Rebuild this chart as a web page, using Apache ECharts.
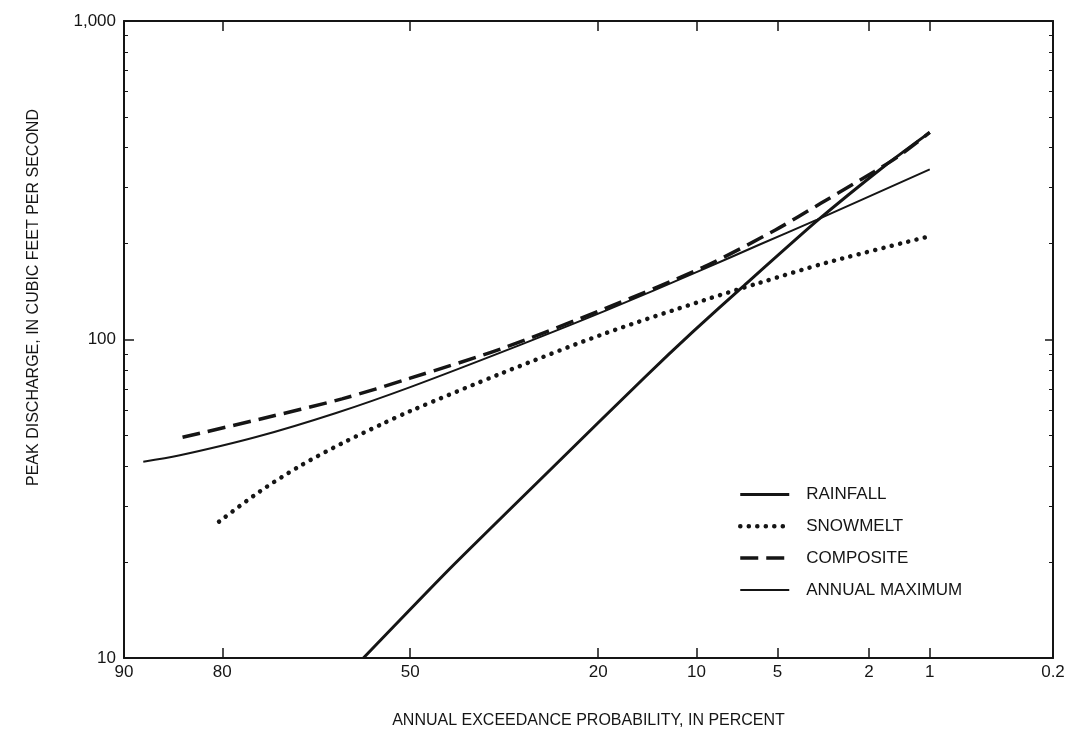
<!DOCTYPE html>
<html>
<head>
<meta charset="utf-8">
<script src="https://cdn.jsdelivr.net/npm/echarts@6/dist/echarts.min.js"></script>
<style>
html, body { margin: 0; padding: 0; background: #fff; }
#chart { width: 1069px; height: 731px; }
</style>
</head>
<body>
<div id="chart"></div>
<script>
// x axis: annual exceedance probability (percent), drawn on a normal-probability scale
var probTicks = [90, 80, 50, 20, 10, 5, 2, 1, 0.2];
var probLabels = ['90', '80', '50', '20', '10', '5', '2', '1', '0.2'];
// y axis: peak discharge (log)
var flowLabels = [10, 100, 1000];
var flowMajor = [100];
var flowMinor = [20, 30, 40, 50, 60, 70, 80, 90, 200, 300, 400, 500, 600, 700, 800, 900];

var rainfallProb = [58.3, 42.8, 26, 14.7, 10.25, 6.85, 3.42, 1.69, 1];
var rainfallFlow = [10, 19.2, 40, 76, 106, 146, 236, 350, 447];

var snowmeltProb = [80.4, 75, 68.9, 62, 55, 50, 34, 19.1, 9.5, 5.94, 3.07, 1];
var snowmeltFlow = [26.8, 33.3, 40.1, 47.2, 54.3, 59.6, 78.5, 104.6, 132.5, 150.3, 174.7, 211];

var compositeProb = [84.6, 75, 62, 50, 34, 19.1, 9.5, 5.1, 3.3, 1.89, 1.45, 1];
var compositeFlow = [49.3, 56.2, 65.1, 75.6, 93.8, 125.3, 168.5, 220.8, 267.7, 336.4, 375, 447];

var annualProb = [88.4, 85, 75.5, 63, 50, 31, 19, 9.5, 5.94, 3.42, 1];
var annualFlow = [41.3, 43.2, 49.4, 58.8, 70.9, 96.4, 123.4, 166, 198, 238, 342];

// inverse standard normal (Acklam)
function normInv(p) {
    var a = [-39.69683028665376, 220.9460984245205, -275.9285104469687, 138.3577518672690, -30.66479806614716, 2.506628277459239];
    var b = [-54.47609879822406, 161.5858368580409, -155.6989798598866, 66.80131188771972, -13.28068155288572];
    var c = [-0.007784894002430293, -0.3223964580411365, -2.400758277161838, -2.549732539343734, 4.374664141464968, 2.938163982698783];
    var d = [0.007784695709041462, 0.3224671290700398, 2.445134137142996, 3.754408661907416];
    var q, r;
    if (p < 0.02425) {
        q = Math.sqrt(-2 * Math.log(p));
        return (((((c[0]*q+c[1])*q+c[2])*q+c[3])*q+c[4])*q+c[5]) / ((((d[0]*q+d[1])*q+d[2])*q+d[3])*q+1);
    }
    if (p > 1 - 0.02425) {
        q = Math.sqrt(-2 * Math.log(1 - p));
        return -(((((c[0]*q+c[1])*q+c[2])*q+c[3])*q+c[4])*q+c[5]) / ((((d[0]*q+d[1])*q+d[2])*q+d[3])*q+1);
    }
    q = p - 0.5;
    r = q * q;
    return (((((a[0]*r+a[1])*r+a[2])*r+a[3])*r+a[4])*r+a[5])*q / (((((b[0]*r+b[1])*r+b[2])*r+b[3])*r+b[4])*r+1);
}
function probToZ(pct) { return normInv(1 - pct / 100); }

function pairs(probs, flows) {
    return probs.map(function (p, i) { return [probToZ(p), flows[i]]; });
}

var probTickZ = probTicks.map(probToZ);
var ink = '#151515';
var fontName = 'Liberation Sans';

var chart = echarts.init(document.getElementById('chart'));
var option = {
    backgroundColor: '#fff',
    animation: false,
    textStyle: { fontFamily: fontName, color: ink },
    grid: { left: 124, right: 16, top: 21, bottom: 73, containLabel: false, outerBoundsMode: 'none' },
    legend: {
        orient: 'vertical',
        left: 738,
        top: 486,
        padding: 0,
        itemWidth: 49,
        itemHeight: 14,
        itemGap: 14.8,
        itemStyle: { opacity: 0 },
        lineStyle: { width: 'inherit', type: 'inherit' },
        textStyle: { fontSize: 17, color: ink, padding: [0, 0, 0, 12] },
        data: ['RAINFALL', 'SNOWMELT', 'COMPOSITE', 'ANNUAL MAXIMUM']
    },
    xAxis: [
        {
            type: 'value',
            position: 'bottom',
            min: probToZ(90),
            max: probToZ(0.2),
            axisLine: { onZero: false, lineStyle: { color: ink, width: 2 } },
            axisTick: { inside: true, length: 10, customValues: probTickZ, lineStyle: { color: ink, width: 1.5 } },
            axisLabel: {
                customValues: probTickZ,
                fontSize: 17,
                color: ink,
                margin: 6,
                formatter: function (v) {
                    for (var i = 0; i < probTickZ.length; i++) {
                        if (Math.abs(probTickZ[i] - v) < 1e-6) return probLabels[i];
                    }
                    return '';
                }
            },
            splitLine: { show: false },
            name: 'ANNUAL EXCEEDANCE PROBABILITY, IN PERCENT',
            nameLocation: 'middle',
            nameGap: 55,
            nameTextStyle: { fontSize: 16, color: ink }
        },
        {
            type: 'value',
            position: 'top',
            min: probToZ(90),
            max: probToZ(0.2),
            axisLine: { onZero: false, lineStyle: { color: ink, width: 2 } },
            axisTick: { inside: true, length: 10, customValues: probTickZ, lineStyle: { color: ink, width: 1.5 } },
            axisLabel: { show: false },
            splitLine: { show: false }
        }
    ],
    yAxis: [
        {
            type: 'log',
            logBase: 10,
            position: 'left',
            min: 10,
            max: 1000,
            axisLine: { show: true, onZero: false, lineStyle: { color: ink, width: 2 } },
            axisTick: { inside: true, length: 10, customValues: flowMajor, lineStyle: { color: ink, width: 1.5 } },
            axisLabel: {
                customValues: flowLabels,
                fontSize: 17,
                color: ink,
                margin: 8,
                formatter: function (v) { return Math.round(v).toLocaleString('en-US'); }
            },
            splitLine: { show: false },
            name: 'PEAK DISCHARGE, IN CUBIC FEET PER SECOND',
            nameLocation: 'middle',
            nameGap: 82,
            nameTextStyle: { fontSize: 16, color: ink, padding: [0, 0, 0, 84] }
        },
        {
            type: 'log',
            logBase: 10,
            position: 'left',
            min: 10,
            max: 1000,
            axisLine: { show: false, onZero: false },
            axisTick: { inside: true, length: 4, customValues: flowMinor, lineStyle: { color: ink, width: 1 } },
            axisLabel: { show: false },
            splitLine: { show: false }
        },
        {
            type: 'log',
            logBase: 10,
            position: 'right',
            min: 10,
            max: 1000,
            axisLine: { show: true, onZero: false, lineStyle: { color: ink, width: 2 } },
            axisTick: { inside: true, length: 8, customValues: flowMajor, lineStyle: { color: ink, width: 1.5 } },
            axisLabel: { show: false },
            splitLine: { show: false }
        },
        {
            type: 'log',
            logBase: 10,
            position: 'right',
            min: 10,
            max: 1000,
            axisLine: { show: false, onZero: false },
            axisTick: { inside: true, length: 4, customValues: flowMinor, lineStyle: { color: ink, width: 1 } },
            axisLabel: { show: false },
            splitLine: { show: false }
        }
    ],
    series: [
        {
            name: 'RAINFALL',
            type: 'line',
            symbol: 'none',
            smooth: 0.2,
            itemStyle: { color: ink },
            lineStyle: { color: ink, width: 3 },
            data: pairs(rainfallProb, rainfallFlow)
        },
        {
            name: 'SNOWMELT',
            type: 'line',
            symbol: 'none',
            smooth: 0.3,
            itemStyle: { color: ink },
            lineStyle: { color: ink, width: 4.5, type: [0.1, 8.4], cap: 'round' },
            data: pairs(snowmeltProb, snowmeltFlow)
        },
        {
            name: 'COMPOSITE',
            type: 'line',
            symbol: 'none',
            smooth: 0.3,
            itemStyle: { color: ink },
            lineStyle: { color: ink, width: 3.5, type: [18, 8] },
            data: pairs(compositeProb, compositeFlow)
        },
        {
            name: 'ANNUAL MAXIMUM',
            type: 'line',
            symbol: 'none',
            smooth: 0.3,
            itemStyle: { color: ink },
            lineStyle: { color: ink, width: 2 },
            data: pairs(annualProb, annualFlow)
        }
    ]
};
chart.setOption(option);
</script>
</body>
</html>
